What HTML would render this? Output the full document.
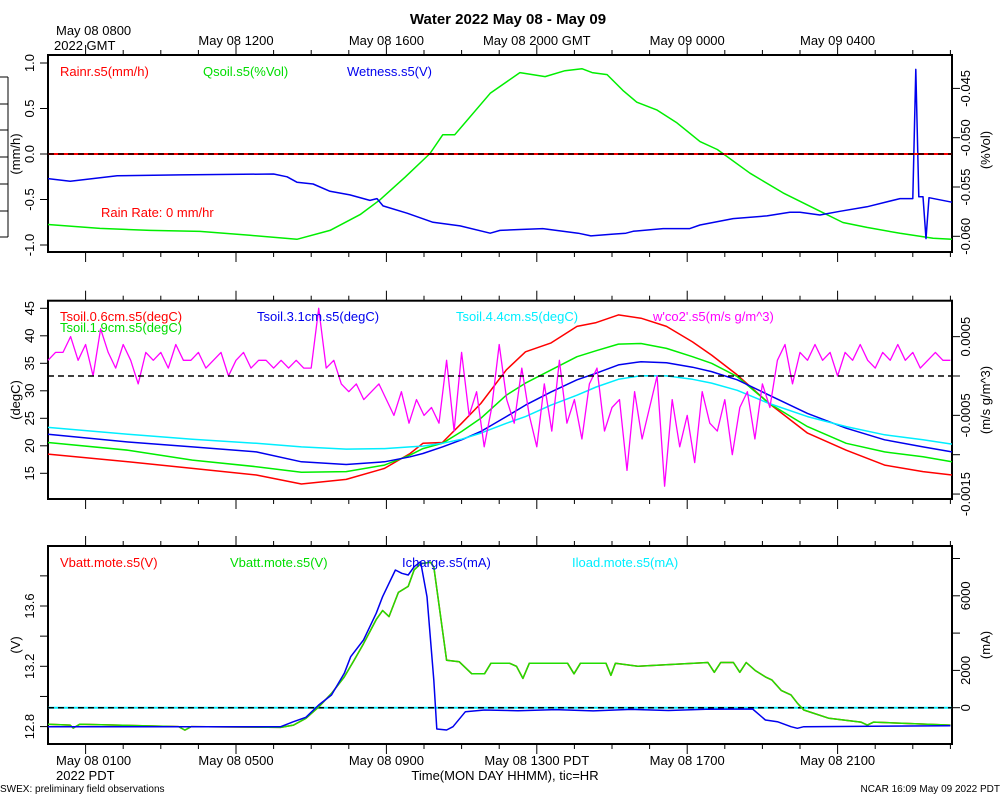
<!DOCTYPE html>
<html><head><meta charset="utf-8"><style>
body{margin:0;background:#fff}
svg{display:block;font-family:"Liberation Sans",sans-serif}
</style></head><body>
<svg id="chart" width="1000" height="800" viewBox="0 0 1000 800" xmlns="http://www.w3.org/2000/svg">
<rect width="1000" height="800" fill="#fff"/>
<text x="508" y="24" font-size="15" font-weight="bold" text-anchor="middle">Water 2022 May 08 - May 09</text>
<text x="56" y="35" font-size="13">May 08 0800</text>
<text x="54" y="50" font-size="13">2022 GMT</text>
<text x="56" y="765" font-size="13">May 08 0100</text>
<text x="56" y="780" font-size="13">2022 PDT</text>
<text x="505" y="780" font-size="13" text-anchor="middle">Time(MON DAY HHMM), tic=HR</text>
<text x="0" y="792" font-size="10">SWEX: preliminary field observations</text>
<text x="1000" y="792" font-size="10" text-anchor="end">NCAR 16:09 May 09 2022 PDT</text>
<g stroke="#000" stroke-width="1">
<line x1="8" y1="77" x2="8" y2="237"/><line x1="0" y1="77" x2="8" y2="77"/><line x1="0" y1="104" x2="8" y2="104"/><line x1="0" y1="130" x2="8" y2="130"/><line x1="0" y1="157" x2="8" y2="157"/><line x1="0" y1="184" x2="8" y2="184"/><line x1="0" y1="211" x2="8" y2="211"/><line x1="0" y1="237" x2="8" y2="237"/>
</g>
</svg>
<script>
// ---- data ----
const topTickLabels=["May 08 1200","May 08 1600","May 08 2000 GMT","May 09 0000","May 09 0400"];
const bottomTickLabels=["May 08 0500","May 08 0900","May 08 1300 PDT","May 08 1700","May 08 2100"];
const majorHours=[5,9,13,17,21];
// panel 1
const qsoilT=[0,1.38,2.71,4.04,5.37,6.62,7.5,8.3,8.83,9.5,10.16,10.5,10.82,11.76,12.55,13.22,13.75,14.2,14.47,14.87,15.29,15.66,16.2,16.73,17.34,17.8,18.67,19.55,20.45,21.14,21.78,22.66,23.54,24.04];
const qsoilV=[-0.0588,-0.0592,-0.0594,-0.0595,-0.0599,-0.0603,-0.0594,-0.0578,-0.0563,-0.0540,-0.0516,-0.0497,-0.0497,-0.0455,-0.0434,-0.0438,-0.0432,-0.0430,-0.0434,-0.0436,-0.0452,-0.0464,-0.0472,-0.0485,-0.0504,-0.0512,-0.0536,-0.0556,-0.0573,-0.0586,-0.0591,-0.0597,-0.0602,-0.0603];
const wetT=[0,0.59,1.84,3.51,6.0,6.36,6.62,7.05,7.5,8.03,8.56,8.75,8.91,9.55,10.24,10.96,11.76,12.02,12.55,13.16,14.1,14.44,15.03,15.37,15.56,16.36,17.07,17.34,18.22,19.12,19.73,20.0,20.53,21.06,21.78,22.66,23.0,23.08,23.16,23.27,23.35,23.43,24.04];
const wetV=[-0.27,-0.30,-0.24,-0.23,-0.22,-0.25,-0.31,-0.33,-0.41,-0.45,-0.51,-0.49,-0.57,-0.65,-0.75,-0.79,-0.87,-0.84,-0.83,-0.82,-0.87,-0.90,-0.88,-0.87,-0.85,-0.82,-0.82,-0.78,-0.71,-0.68,-0.64,-0.64,-0.67,-0.63,-0.58,-0.49,-0.49,0.93,-0.47,-0.47,-0.93,-0.48,-0.53];
const rainT=[0,24.04];
const rainV=[0,0];
// panel 2
const tsoilT=[0,2.13,3.84,5.54,6.74,7.93,8.95,9.63,9.97,10.49,11.0,11.51,12.19,12.7,13.38,14.07,14.58,15.17,15.77,16.45,17.14,17.65,18.33,19.18,20.2,21.23,22.25,23.27,24.04];
const tsoil06=[18.5,17.1,15.9,14.7,13.05,13.9,15.9,18.6,20.45,20.6,24.1,27.7,33.8,37.1,38.7,41.7,42.4,43.8,43.2,41.7,38.9,36.5,32.9,27.7,22.3,19.2,16.5,15.3,14.7];
const tsoil19=[20.6,19.2,17.4,16.2,15.2,15.3,16.5,18.3,19.5,20.45,22.6,25.0,29.2,31.4,33.8,36.2,37.3,38.5,38.6,37.7,36.2,35.0,32.6,27.7,23.5,20.45,18.9,18.0,17.1];
const tsoil31=[22.1,20.7,19.8,18.9,17.1,16.6,17.1,18.0,18.6,19.8,21.1,22.6,25.3,27.4,29.8,32.0,33.2,34.7,35.3,35.1,34.3,33.5,32.0,29.2,25.9,23.2,21.1,19.8,18.9];
const tsoil44=[23.35,22.1,21.2,20.45,19.8,19.4,19.5,19.8,19.95,20.45,21.2,22.3,24.1,25.3,27.4,29.2,30.7,32.1,32.75,32.7,32.1,31.4,30.1,27.7,25.3,23.5,22.0,21.1,20.3];
const co2Step=0.2;
const co2V=[2,3,3,5,2,4,0,6,3,1,4,2,-1,3,2,3,1,4,2,2,3,1,2,3,0,2,3,1,2,2,1,2,1,2,1,1,
8.6,
1,2,-1,-2,-1,-3,-2,-1,
-3,-5,-2,-6,-3,-5,-4,-6,2,
-7,3,-5,-2,-9,-4,4,-3,-6,1,-5,-9,-1,-7,2,-6,-3,-8,-1,1,-7,-4,-3,-12,-2,-8,-4,0,-14,-3,-9,-5,-11,-2,-6,-7,-3,-10,-4,-2,-8,-1,-4,
2,4,-1,3,2,4,2,3,0,3,2,4,2,1,3,2,4,2,3,1,2,3,2,2]; // units 1e-4
// panel 3
const vbattT=[0,0.59,0.67,0.84,3.47,3.64,3.81,6.19,6.53,6.86,7.2,7.54,7.88,8.14,8.39,8.73,8.9,9.07,9.32,9.58,9.74,9.91,10.17,10.26,10.43,10.6,10.94,11.27,11.61,11.78,12.28,12.46,12.63,12.8,13.82,13.99,14.16,14.84,14.97,15.09,15.69,17.55,17.72,17.89,18.23,18.4,18.57,18.82,19.08,19.25,19.5,19.76,19.93,20.1,20.77,21.62,21.79,21.96,24.0];
const vbattV=[12.815,12.81,12.79,12.815,12.80,12.777,12.80,12.795,12.81,12.855,12.93,13.02,13.13,13.24,13.35,13.51,13.57,13.53,13.69,13.73,13.84,13.88,13.89,13.86,13.55,13.24,13.23,13.15,13.15,13.22,13.22,13.20,13.12,13.22,13.22,13.15,13.22,13.22,13.14,13.22,13.20,13.225,13.16,13.225,13.225,13.16,13.225,13.17,13.13,13.11,13.04,13.01,12.955,12.91,12.855,12.83,12.81,12.83,12.81];
const ichT=[0,6.19,6.53,6.86,7.2,7.54,7.88,8.05,8.39,8.73,8.9,9.07,9.24,9.41,9.58,9.74,9.91,10.08,10.26,10.34,10.6,10.77,11.1,11.61,12.5,13.5,14.5,15.5,16.5,17.5,18.74,19.08,19.4,19.76,19.93,20.1,24.0];
const ichV=[-1019,-1019,-750,-515,145,681,1844,2735,3630,5061,5952,6670,7383,7206,7115,7560,7828,5952,1485,-1142,-1196,-1019,-214,-123,-160,-100,-170,-90,-150,-80,-70,-660,-750,-1019,-1105,-1019,-965];
const iloadT=[0,24.04];
const iloadV=[0,0];

// ---- scales ----
const X0=48,PX=37.6;
function xT(t){return X0+t*PX;}
const P1={top:55,bot:252};
const P2={top:300.7,bot:499};
const P3={top:546,bot:744};
function y1L(v){return 154-v*91;}
function y1R(v){return 137.7-(v+0.050)/0.005*49.3;}
function y2L(v){return 308.3+(45-v)*5.5;}
function y2R(v){return 376-v*78700;}
function y3L(v){return 606+(13.6-v)*150.75;}
function y3R(v){return 707.7-v*0.01865;}

const svg=document.getElementById('chart');
const NS='http://www.w3.org/2000/svg';
function mk(tag,attrs,parent){const e=document.createElementNS(NS,tag);for(const k in attrs)e.setAttribute(k,attrs[k]);(parent||svg).appendChild(e);return e;}
function txt(s,x,y,attrs){const e=mk('text',Object.assign({x:x,y:y,'font-size':13},attrs||{}));e.textContent=s;return e;}

function panel(P,name){
  const g=mk('g',{});
  
  
  const r=mk('rect',{x:48,y:P.top,width:904,height:P.bot-P.top,fill:'none',stroke:'#000','stroke-width':2},g);
  
  
  for(let h=1;h<=24;h++){
    const x=xT(h);const maj=majorHours.indexOf(h)>=0||h===1;const L=maj?10:5;
    mk('line',{x1:x,y1:P.top,x2:x,y2:P.top-L,stroke:'#000'},g);
    mk('line',{x1:x,y1:P.bot,x2:x,y2:P.bot+L,stroke:'#000'},g);
  }
  return g;
}
function leftTicks(g,vals,labels,fy,lx){
  vals.forEach((v,i)=>{const y=fy(v);mk('line',{x1:48,y1:y,x2:40,y2:y,stroke:'#000'},g);
    if(labels[i]!==''){const t=txt(labels[i],lx,y,{'text-anchor':'middle',transform:`rotate(-90 ${lx} ${y})`,dy:'0'});
    
    }});
}
function rightTicks(g,vals,labels,fy,lx){
  vals.forEach((v,i)=>{const y=fy(v);mk('line',{x1:952,y1:y,x2:960,y2:y,stroke:'#000'},g);
    if(labels[i]!==''){const t=txt(labels[i],lx,y,{'text-anchor':'middle',transform:`rotate(-90 ${lx} ${y})`});
    
    }});
}
function line(T,V,fy,color,name,w){
  const d=T.map((t,i)=>(i?'L':'M')+xT(t).toFixed(1)+' '+fy(V[i]).toFixed(1)).join(' ');
  const p=mk('path',{d:d,fill:'none',stroke:color,'stroke-width':w||1.5,'stroke-linejoin':'round'});
  
  
  return p;
}
function dashed(y,c2){
  if(c2){mk('line',{x1:48,y1:y,x2:952,y2:y,stroke:c2,'stroke-width':2});}
  const l=mk('line',{x1:48,y1:y,x2:952,y2:y,stroke:'#000','stroke-width':1.5,'stroke-dasharray':'6 4'});
  
  
}
function title(s,x,y,name){const t=txt(s,x,y,{'text-anchor':'middle',transform:`rotate(-90 ${x} ${y})`});
  
  }
function legend(s,x,y,c,name){const t=txt(s,x,y,{fill:c});
  
  }

// top & bottom axis labels
majorHours.forEach((h,i)=>{
  const a=txt(topTickLabels[i],xT(h),45,{'text-anchor':'middle'});
  
  
  const b=txt(bottomTickLabels[i],xT(h),765,{'text-anchor':'middle'});
  
  
});

// ---- panel 1 ----
const g1=panel(P1,'water-panel');
leftTicks(g1,[1,0.5,0,-0.5,-1],['1.0','0.5','0.0','-0.5','-1.0'],y1L,34);
rightTicks(g1,[-0.045,-0.050,-0.055,-0.060],['-0.045','-0.050','-0.055','-0.060'],y1R,970);
title('(mm/h)',20,154,'left-axis-title-mmh');
title('(%Vol)',990,150,'right-axis-title-vol');
line(qsoilT,qsoilV,y1R,'#00ee00','qsoil-line');
line(wetT,wetV,y1L,'#0000ee','wetness-line');
line(rainT,rainV,y1L,'#ff0000','rain-rate-line',2);
dashed(154);
legend('Rainr.s5(mm/h)',60,76,'#ff0000','legend-rainr');
legend('Qsoil.s5(%Vol)',203,76,'#00dd00','legend-qsoil');
legend('Wetness.s5(V)',347,76,'#0000ee','legend-wetness');
legend('Rain Rate: 0 mm/hr',101,217,'#ff0000','rain-rate-note');

// ---- panel 2 ----
const g2=panel(P2,'soil-temp-panel');
leftTicks(g2,[45,40,35,30,25,20,15],['45','40','35','30','25','20','15'],y2L,34);
rightTicks(g2,[0.0005,0,-0.0005,-0.001,-0.0015],['0.0005','','-0.0005','','-0.0015'],y2R,970);
title('(degC)',20,400,'left-axis-title-degc');
title('(m/s g/m^3)',990,400,'right-axis-title-co2');
line(tsoilT,tsoil06,y2L,'#ff0000','tsoil-0.6cm-line');
line(tsoilT,tsoil19,y2L,'#00ee00','tsoil-1.9cm-line');
line(tsoilT,tsoil31,y2L,'#0000ee','tsoil-3.1cm-line');
line(tsoilT,tsoil44,y2L,'#00eeff','tsoil-4.4cm-line');
line(co2V.map((v,i)=>i*co2Step),co2V.map(v=>v*1e-4),y2R,'#ff00ff','wco2-line',1.3);
dashed(376);
legend('Tsoil.0.6cm.s5(degC)',60,321,'#ff0000','legend-tsoil-0.6');
legend('Tsoil.1.9cm.s5(degC)',60,332,'#00dd00','legend-tsoil-1.9');
legend('Tsoil.3.1cm.s5(degC)',257,321,'#0000ee','legend-tsoil-3.1');
legend('Tsoil.4.4cm.s5(degC)',456,321,'#00eeff','legend-tsoil-4.4');
legend("w'co2'.s5(m/s g/m^3)",653,321,'#ff00ff','legend-wco2');

// ---- panel 3 ----
const g3=panel(P3,'battery-panel');
leftTicks(g3,[13.8,13.6,13.4,13.2,13.0,12.8],['','13.6','','13.2','','12.8'],y3L,34);
rightTicks(g3,[8000,6000,4000,2000,0],['','6000','','2000','0'],y3R,970);
title('(V)',20,645,'left-axis-title-volts');
title('(mA)',990,645,'right-axis-title-ma');
line(iloadT,iloadV,y3R,'#00eeff','iload-line',2);
dashed(707.7);
line(vbattT,vbattV,y3L,'#ff0000','vbatt-red-line',1.5);
line(vbattT,vbattV,y3L,'#22dd00','vbatt-green-line',1.5);
line(ichT,ichV,y3R,'#0000ee','icharge-line',1.5);
legend('Vbatt.mote.s5(V)',60,567,'#ff0000','legend-vbatt-red');
legend('Vbatt.mote.s5(V)',230,567,'#00dd00','legend-vbatt-green');
legend('Icharge.s5(mA)',402,567,'#0000ee','legend-icharge');
legend('Iload.mote.s5(mA)',572,567,'#00eeff','legend-iload');
</script>
</body></html>
